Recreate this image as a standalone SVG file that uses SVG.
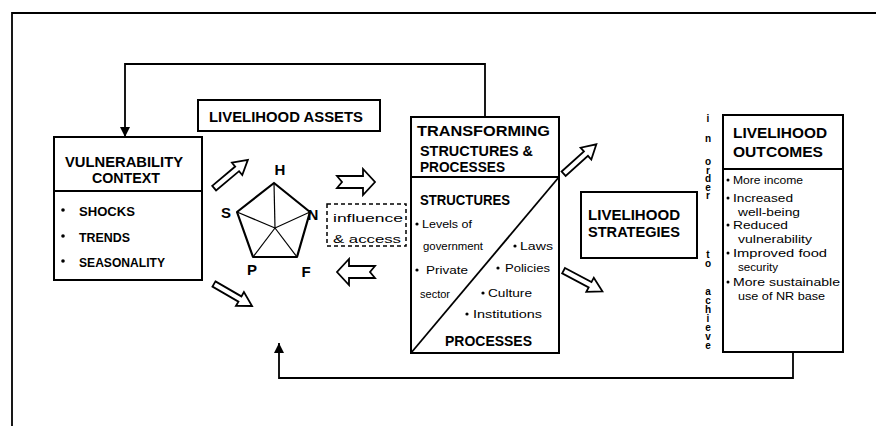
<svg xmlns="http://www.w3.org/2000/svg" width="876" height="426" viewBox="0 0 876 426">
<defs>
<style>
.box{fill:#fff;stroke:#000;stroke-width:2}
.ln{fill:none;stroke:#000;stroke-width:1.8}
.h{font-family:"Liberation Sans",Arial,sans-serif;font-weight:bold;font-size:15px;fill:#000}
.m{font-family:"Liberation Sans",Arial,sans-serif;font-weight:bold;font-size:13px;fill:#000}
.s{font-family:"Liberation Sans",Arial,sans-serif;font-size:11.5px;fill:#000}
.v{font-family:"Liberation Sans",Arial,sans-serif;font-weight:bold;font-size:10px;fill:#000;writing-mode:vertical-rl;text-orientation:upright}
.lbl{font-family:"Liberation Sans",Arial,sans-serif;font-weight:bold;font-size:15px;fill:#000;text-anchor:middle}
.ha{fill:#fff;stroke:#000;stroke-width:1.8;stroke-linejoin:miter}
</style>
<marker id="tri" viewBox="0 0 10 10" refX="10" refY="5" markerWidth="10" markerHeight="10" markerUnits="userSpaceOnUse" orient="auto">
<path d="M0,0 L10,5 L0,10 Z" fill="#000"/>
</marker>
<path id="harrow" d="M-22,-3 L8,-3 L8,-8 L22,0 L8,8 L8,3 L-22,3 Z"/>
<path id="narrow" d="M-19,-6 L7,-6 L7,-13 L19,0 L7,13 L7,6 L-19,6 L-14,0 Z"/>
</defs>

<rect width="876" height="426" fill="#fff"/>

<g id="frame">
<path class="ln" d="M12,426 V13 H876" stroke-width="1.5"/>
</g>

<g id="connectors">
<path class="ln" d="M485,117 V64 H125 V137" marker-end="url(#tri)"/>
<path class="ln" d="M793,352 V378 H279 V343" marker-end="url(#tri)"/>
<use href="#harrow" class="ha" transform="translate(231,174) rotate(-40)"/>
<use href="#harrow" class="ha" transform="translate(233,295) rotate(30)"/>
<use href="#harrow" class="ha" transform="translate(580,159) rotate(-42)"/>
<use href="#harrow" class="ha" transform="translate(583,281) rotate(28)"/>
<use href="#narrow" class="ha" transform="translate(356,182)"/>
<use href="#narrow" class="ha" transform="translate(356,272) scale(-1,1)"/>
</g>

<g id="vulnerability">
<rect class="box" x="54" y="137" width="148" height="143"/>
<line class="ln" x1="54" y1="191" x2="202" y2="191"/>
<text class="h" x="65" y="167" textLength="118" lengthAdjust="spacingAndGlyphs">VULNERABILITY</text>
<text class="h" x="92" y="183" textLength="68" lengthAdjust="spacingAndGlyphs">CONTEXT</text>
<circle cx="63" cy="210" r="1.8"/><circle cx="63" cy="236" r="1.8"/><circle cx="63" cy="261" r="1.8"/>
<text class="m" x="79" y="216" textLength="56" lengthAdjust="spacingAndGlyphs">SHOCKS</text>
<text class="m" x="79" y="242" textLength="51" lengthAdjust="spacingAndGlyphs">TRENDS</text>
<text class="m" x="79" y="267" textLength="86" lengthAdjust="spacingAndGlyphs">SEASONALITY</text>
</g>

<g id="assets">
<rect class="box" x="198" y="100" width="182" height="31"/>
<text class="h" x="209" y="122" textLength="154" lengthAdjust="spacingAndGlyphs">LIVELIHOOD ASSETS</text>
</g>

<g id="pentagon">
<polygon points="274,183 310,212 297,257 253,257 237,212" fill="#fff" stroke="#000" stroke-width="2.2" stroke-linejoin="round"/>
<g stroke="#000" stroke-width="1.2">
<line x1="275" y1="228" x2="274" y2="183"/>
<line x1="275" y1="228" x2="310" y2="212"/>
<line x1="275" y1="228" x2="297" y2="257"/>
<line x1="275" y1="228" x2="253" y2="257"/>
<line x1="275" y1="228" x2="237" y2="212"/>
</g>
<text class="lbl" x="280" y="175">H</text>
<text class="lbl" x="226" y="218">S</text>
<text class="lbl" x="313" y="220">N</text>
<text class="lbl" x="252" y="275">P</text>
<text class="lbl" x="306" y="277">F</text>
</g>

<g id="influence">
<rect x="327" y="204" width="79" height="42" fill="none" stroke="#000" stroke-width="1.5" stroke-dasharray="4,3"/>
<text class="s" x="333" y="222" textLength="70" lengthAdjust="spacingAndGlyphs" font-size="13">influence</text>
<text class="s" x="333" y="243" textLength="68" lengthAdjust="spacingAndGlyphs" font-size="13">&amp; access</text>
</g>

<g id="transforming">
<rect class="box" x="411" y="117" width="148" height="236"/>
<line class="ln" x1="411" y1="177" x2="559" y2="177"/>
<line class="ln" x1="559" y1="177" x2="411" y2="353"/>
<text class="h" x="417" y="136" textLength="133" lengthAdjust="spacingAndGlyphs">TRANSFORMING</text>
<text class="h" x="420" y="156" textLength="113" lengthAdjust="spacingAndGlyphs">STRUCTURES &amp;</text>
<text class="h" x="420" y="172" textLength="85" lengthAdjust="spacingAndGlyphs">PROCESSES</text>
<text class="h" x="420" y="205" textLength="90" lengthAdjust="spacingAndGlyphs">STRUCTURES</text>
<circle cx="417" cy="224" r="1.6"/><circle cx="417" cy="270" r="1.6"/>
<circle cx="515" cy="246" r="1.6"/><circle cx="498" cy="268" r="1.6"/>
<circle cx="483" cy="293" r="1.6"/><circle cx="467" cy="314" r="1.6"/>
<text class="s" x="422" y="228" textLength="50" lengthAdjust="spacingAndGlyphs">Levels of</text>
<text class="s" x="423" y="250" textLength="60" lengthAdjust="spacingAndGlyphs">government</text>
<text class="s" x="426" y="274" textLength="42" lengthAdjust="spacingAndGlyphs">Private</text>
<text class="s" x="420" y="298" textLength="30" lengthAdjust="spacingAndGlyphs">sector</text>
<text class="s" x="520" y="250" textLength="33" lengthAdjust="spacingAndGlyphs">Laws</text>
<text class="s" x="505" y="272" textLength="45" lengthAdjust="spacingAndGlyphs">Policies</text>
<text class="s" x="488" y="297" textLength="44" lengthAdjust="spacingAndGlyphs">Culture</text>
<text class="s" x="473" y="318" textLength="69" lengthAdjust="spacingAndGlyphs">Institutions</text>
<text class="h" x="445" y="346" textLength="87" lengthAdjust="spacingAndGlyphs">PROCESSES</text>
</g>

<g id="strategies">
<rect class="box" x="581" y="192" width="116" height="66"/>
<text class="h" x="588" y="220" textLength="92" lengthAdjust="spacingAndGlyphs" font-size="14">LIVELIHOOD</text>
<text class="h" x="588" y="237" textLength="92" lengthAdjust="spacingAndGlyphs" font-size="14">STRATEGIES</text>
</g>

<g id="in-order-to-achieve">
<text class="v" x="708" y="113" letter-spacing="9">in</text>
<text class="v" x="708" y="156" letter-spacing="-2.5">order</text>
<text class="v" x="708" y="249" letter-spacing="-2">to</text>
<text class="v" x="708" y="286" letter-spacing="-2">achieve</text>
</g>

<g id="outcomes">
<rect class="box" x="723" y="115" width="120" height="237"/>
<line class="ln" x1="723" y1="169" x2="843" y2="169"/>
<text class="h" x="733" y="138" textLength="94" lengthAdjust="spacingAndGlyphs">LIVELIHOOD</text>
<text class="h" x="733" y="157" textLength="90" lengthAdjust="spacingAndGlyphs">OUTCOMES</text>
<circle cx="728" cy="180" r="1.5"/><circle cx="728" cy="198" r="1.5"/>
<circle cx="728" cy="225" r="1.5"/><circle cx="728" cy="253" r="1.5"/>
<circle cx="728" cy="282" r="1.5"/>
<text class="s" x="733" y="184" textLength="70" lengthAdjust="spacingAndGlyphs">More income</text>
<text class="s" x="733" y="202" textLength="60" lengthAdjust="spacingAndGlyphs">Increased</text>
<text class="s" x="738" y="216" textLength="62" lengthAdjust="spacingAndGlyphs">well-being</text>
<text class="s" x="733" y="229" textLength="55" lengthAdjust="spacingAndGlyphs">Reduced</text>
<text class="s" x="738" y="243" textLength="74" lengthAdjust="spacingAndGlyphs">vulnerability</text>
<text class="s" x="733" y="257" textLength="94" lengthAdjust="spacingAndGlyphs">Improved food</text>
<text class="s" x="738" y="271" textLength="40" lengthAdjust="spacingAndGlyphs">security</text>
<text class="s" x="733" y="286" textLength="107" lengthAdjust="spacingAndGlyphs">More sustainable</text>
<text class="s" x="738" y="300" textLength="87" lengthAdjust="spacingAndGlyphs">use of NR base</text>
</g>
</svg>
